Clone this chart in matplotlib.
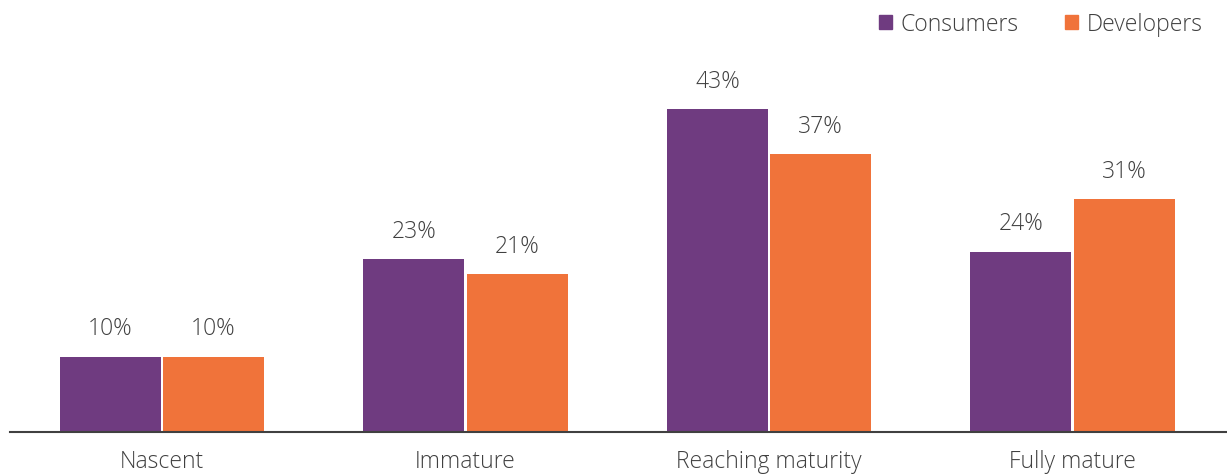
import numpy as np
import matplotlib.pyplot as plt
from matplotlib.patches import Patch

plt.rcParams['font.family'] = ['Open Sans', 'DejaVu Sans']
plt.rcParams['font.weight'] = 'light'

categories = ["Nascent", "Immature", "Reaching maturity", "Fully mature"]
consumers = [10, 23, 43, 24]
developers = [10, 21, 37, 31]
series_names = ["Consumers", "Developers"]

purple = "#6f3b80"
orange = "#f0733a"
text_col = "#404040"

fig = plt.figure(figsize=(12.27, 4.77), dpi=100)
ax = fig.add_axes([10 / 1227, 44 / 477, 1217 / 1227, 433 / 477])

x = np.arange(len(categories))
w = 0.333
off = 0.17
b1 = ax.bar(x - off, consumers, w, color=purple, linewidth=0)
b2 = ax.bar(x + off, developers, w, color=orange, linewidth=0)

fs = 16.5
for bars, vals in ((b1, consumers), (b2, developers)):
    for rect, v in zip(bars, vals):
        ax.text(rect.get_x() + rect.get_width() / 2, v + 2.2, f"{v}%",
                ha="center", va="bottom", fontsize=fs, color=text_col)

ax.set_xlim(-0.5008, 3.509)
ax.set_ylim(0, 57.73)
ax.set_xticks(x)
ax.set_xticklabels(categories, fontsize=fs, color=text_col)
ax.tick_params(axis="x", length=0, pad=12)
ax.set_yticks([])
for s in ("top", "right", "left"):
    ax.spines[s].set_visible(False)
ax.spines["bottom"].set_color("#404040")
ax.spines["bottom"].set_linewidth(1.5)

handles = [Patch(color=purple), Patch(color=orange)]
leg = fig.legend(handles, series_names, loc="upper right", bbox_to_anchor=(0.997, 1.015),
                 ncol=2, frameon=False, fontsize=fs, handlelength=0.55, handleheight=0.55,
                 handletextpad=0.4, columnspacing=2.0, labelcolor=text_col)

fig.savefig("out.png", dpi=100)
